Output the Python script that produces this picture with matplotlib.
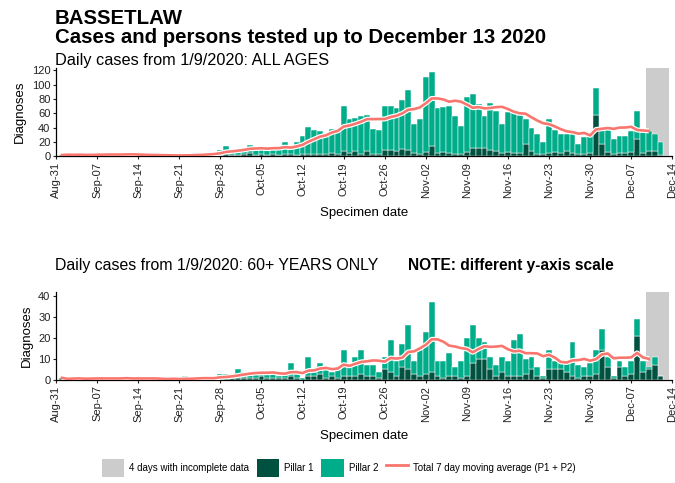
import matplotlib
matplotlib.use("Agg")
import matplotlib.pyplot as plt
import matplotlib.dates as mdates
from matplotlib.patches import Patch
from matplotlib.lines import Line2D
import numpy as np
import pandas as pd

plt.rcParams['font.family'] = ['Liberation Sans', 'DejaVu Sans']

# ---------------- data ----------------
start_date = "2020-09-01"
end_date = "2020-12-13"
incomplete_start = "2020-12-10"
ma_last = "2020-12-10"

# ALL AGES: total daily cases (P1 + P2) and pillar 1
all_total = [
    # Sep
    2, 3, 2, 3, 1, 2, 4, 3, 4, 2, 3, 2, 3, 2, 1, 2, 1, 2, 1, 2, 1,
    2, 3, 3, 4, 5, 6, 9, 15, 8,
    # Oct
    10, 11, 16, 9, 12, 11, 12, 11, 20, 12, 20, 28, 41, 37, 36, 33, 39, 36,
    70, 52, 54, 56, 58, 39, 37, 70, 71, 67, 79, 93, 46,
    # Nov
    53, 111, 118, 67, 69, 71, 56, 43, 83, 87, 73, 57, 75, 64, 46, 62, 60,
    58, 53, 40, 32, 20, 53, 37, 32, 32, 32, 17, 27, 29,
    # Dec
    95, 39, 39, 24, 29, 28, 36, 64, 34, 35, 31, 20, 0,
]
all_p1 = [
    0, 1, 0, 1, 0, 0, 1, 1, 1, 0, 1, 0, 1, 0, 0, 1, 0, 0, 0, 1, 0,
    0, 1, 1, 1, 1, 2, 2, 3, 2,
    2, 3, 5, 2, 3, 2, 3, 2, 3, 4, 2, 3, 4, 3, 4, 3, 5, 4,
    7, 5, 7, 4, 7, 4, 3, 9, 9, 8, 10, 9, 5,
    4, 6, 15, 5, 6, 5, 4, 3, 6, 12, 12, 12, 9, 7, 5, 6, 5,
    5, 17, 8, 4, 3, 5, 6, 5, 7, 5, 3, 4, 5,
    58, 17, 6, 4, 5, 5, 6, 24, 5, 8, 7, 2, 0,
]

# 60+ YEARS: total daily cases and pillar 1
old_total = [
    1, 0, 1, 1, 0, 1, 1, 1, 0, 1, 1, 1, 0, 1, 1, 0, 1, 0, 0, 1, 0,
    2, 0, 2, 1, 0, 1, 3, 3, 2,
    5, 4, 3, 3, 4, 3, 3, 2, 3, 8, 3, 1, 11, 4, 8, 5, 4, 5,
    14, 7, 11, 14, 7, 7, 4, 11, 19, 9, 17, 26, 9,
    14, 23, 37, 9, 9, 13, 6, 9, 20, 26, 20, 18, 11, 7, 11, 9, 19,
    22, 10, 11, 6, 2, 14, 9, 8, 8, 18, 7, 6, 8,
    14, 24, 11, 2, 9, 6, 9, 29, 9, 6, 11, 2, 0,
]
old_p1 = [
    0, 0, 0, 0, 0, 0, 0, 0, 0, 0, 0, 0, 0, 0, 0, 0, 0, 0, 0, 0, 0,
    0, 0, 0, 0, 0, 0, 1, 1, 1,
    1, 1, 1, 1, 2, 1, 1, 1, 1, 2, 1, 0, 2, 2, 3, 1, 2, 1,
    2, 2, 2, 3, 2, 2, 1, 5, 4, 2, 6, 5, 3,
    2, 3, 4, 2, 1, 2, 2, 1, 2, 8, 10, 10, 5, 2, 4, 2, 2,
    2, 3, 5, 2, 1, 5, 5, 5, 4, 2, 1, 2, 2,
    3, 14, 6, 1, 6, 2, 3, 21, 4, 5, 7, 2, 0,
]

tick_labels = ["Aug-31", "Sep-07", "Sep-14", "Sep-21", "Sep-28", "Oct-05",
               "Oct-12", "Oct-19", "Oct-26", "Nov-02", "Nov-09", "Nov-16",
               "Nov-23", "Nov-30", "Dec-07", "Dec-14"]

C_P1 = "#00513F"
C_P2 = "#00AD8A"
C_GREY = "#CCCCCC"
C_LINE = "#F8766D"

dates = pd.date_range(start_date, end_date, freq="D")
tick_dates = pd.date_range("2020-08-31", "2020-12-14", freq="7D")

fig = plt.figure(figsize=(6.75, 4.83), dpi=100)

def panel(rect, total, p1, ymax, yticks):
    ax = fig.add_axes(rect)
    x = mdates.date2num(dates.to_pydatetime())
    total = np.array(total, float)
    p1 = np.array(p1, float)
    p2 = total - p1
    x0 = mdates.date2num(pd.Timestamp(incomplete_start)) - 0.5
    x1 = mdates.date2num(pd.Timestamp(end_date)) + 0.5
    ax.axvspan(x0, x1, color=C_GREY, zorder=0, lw=0)
    ax.bar(x, p1, width=1.0, color=C_P1, edgecolor="white", linewidth=0.35, zorder=2)
    ax.bar(x, p2, bottom=p1, width=1.0, color=C_P2, edgecolor="white", linewidth=0.35, zorder=2)
    ma = pd.Series(total, index=dates).rolling(7, min_periods=1).mean()
    ma = ma[:ma_last]
    xm = mdates.date2num(ma.index.to_pydatetime())
    ax.plot(xm, ma.values, color="white", lw=3.6, zorder=3, solid_capstyle="butt")
    ax.plot(xm, ma.values, color=C_LINE, lw=1.9, zorder=4)
    ax.set_xlim(mdates.date2num(tick_dates[0]), mdates.date2num(tick_dates[-1]))
    ax.set_ylim(0, ymax)
    ax.set_xticks(mdates.date2num(tick_dates.to_pydatetime()))
    ax.set_xticklabels(tick_labels, rotation=90, fontsize=8)
    ax.set_yticks(yticks)
    ax.set_yticklabels([str(v) for v in yticks], fontsize=8)
    ax.tick_params(length=2.5, width=0.8, pad=1.5, colors="#222222")
    for s in ["top", "right"]:
        ax.spines[s].set_visible(False)
    for s in ["left", "bottom"]:
        ax.spines[s].set_linewidth(0.9)
        ax.spines[s].set_color("black")
    ax.set_ylabel("Diagnoses", fontsize=9.5, labelpad=4)
    ax.set_xlabel("Specimen date", fontsize=9.5, labelpad=6)
    return ax

ax1 = panel([0.083, 0.676, 0.913, 0.184], all_total, all_p1, 124, [0, 20, 40, 60, 80, 100, 120])
ax2 = panel([0.083, 0.2133, 0.913, 0.1815], old_total, old_p1, 41.6, [0, 10, 20, 30, 40])

fig.text(0.0815, 0.950, "BASSETLAW", fontsize=14.7, fontweight="bold", va="baseline")
fig.text(0.0815, 0.910, "Cases and persons tested up to December 13 2020", fontsize=14.7,
         fontweight="bold", va="baseline")
fig.text(0.0815, 0.865, "Daily cases from 1/9/2020: ALL AGES", fontsize=11.7, va="baseline")
fig.text(0.0815, 0.441, "Daily cases from 1/9/2020: 60+ YEARS ONLY", fontsize=11.4, va="baseline")
fig.text(0.604, 0.441, "NOTE: different y-axis scale", fontsize=11.2, fontweight="bold", va="baseline")

handles = [Patch(facecolor=C_GREY, edgecolor="none"),
           Patch(facecolor=C_P1, edgecolor="none"),
           Patch(facecolor=C_P2, edgecolor="none"),
           Line2D([0], [0], color=C_LINE, lw=2)]
labels = ["4 days with incomplete data", "Pillar 1", "Pillar 2",
          "Total 7 day moving average (P1 + P2)"]
fig.legend(handles, labels, loc="center", bbox_to_anchor=(0.502, 0.031), ncol=4,
           frameon=False, fontsize=7, handlelength=2.3, handleheight=2.5,
           handletextpad=0.5, columnspacing=0.8)

fig.savefig("out.png", dpi=100)
